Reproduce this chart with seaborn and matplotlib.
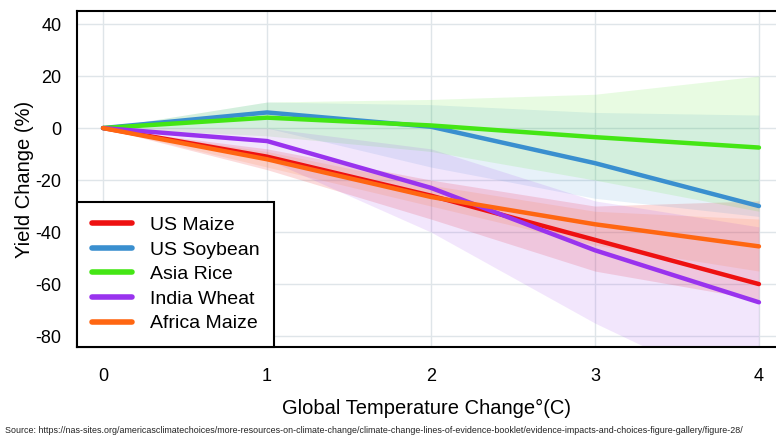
import numpy as np
import pandas as pd
import matplotlib.pyplot as plt
import seaborn as sns

# ---------------- data ----------------
temps = [0, 1, 2, 3, 4]
crops = ['US Maize', 'US Soybean', 'Asia Rice', 'India Wheat', 'Africa Maize']
colors = ['#ee1111', '#3a8fcf', '#44e614', '#9933ee', '#ff6611']

us_maize = [0, -11, -26, -43, -60]
us_soybean = [0, 6, 0.5, -13.5, -30]
asia_rice = [0, 4, 1, -3.5, -7.5]
india_wheat = [0, -5, -23, -47, -67]
africa_maize = [0, -12, -26.5, -37, -45.5]

# uncertainty bands (lower / upper)
us_maize_lo = [0, -16, -35, -55, -66]
us_maize_hi = [0, -8, -20, -30, -28]
us_soybean_lo = [0, 0, -15, -27, -34]
us_soybean_hi = [0, 10, 9, 6, 5]
asia_rice_lo = [0, -3, -9, -20, -32]
asia_rice_hi = [0, 10, 11, 13, 20]
india_wheat_lo = [0, -12, -40, -75, -105]
india_wheat_hi = [0, 0, -8, -28, -38]
africa_maize_lo = [0, -15, -30, -45, -55]
africa_maize_hi = [0, -9, -22, -32, -35]

series = [us_maize, us_soybean, asia_rice, india_wheat, africa_maize]
lows = [us_maize_lo, us_soybean_lo, asia_rice_lo, india_wheat_lo, africa_maize_lo]
highs = [us_maize_hi, us_soybean_hi, asia_rice_hi, india_wheat_hi, africa_maize_hi]

source = ("Source: https://nas-sites.org/americasclimatechoices/more-resources-on-climate-change/"
          "climate-change-lines-of-evidence-booklet/evidence-impacts-and-choices-figure-gallery/figure-28/")

# ---------------- plot ----------------
sns.set_theme(style='white')
plt.rcParams['font.family'] = ['Liberation Sans', 'DejaVu Sans']
plt.rcParams['axes.unicode_minus'] = False
plt.rcParams['text.color'] = 'black'
plt.rcParams['axes.labelcolor'] = 'black'
plt.rcParams['xtick.color'] = 'black'
plt.rcParams['ytick.color'] = 'black'

rows = []
for crop, vals in zip(crops, series):
    for t, v in zip(temps, vals):
        rows.append({'temp': t, 'yield': v, 'crop': crop})
df = pd.DataFrame(rows)

fig = plt.figure(figsize=(7.76, 4.36), dpi=100)
ax = fig.add_axes([0.0992, 0.2041, 0.9008, 0.7706])

band_alpha = [0.15, 0.12, 0.12, 0.12, 0.12]
for lo, hi, c, a in zip(lows, highs, colors, band_alpha):
    ax.fill_between(temps, lo, hi, color=c, alpha=a, linewidth=0, zorder=1)

sns.lineplot(data=df, x='temp', y='yield', hue='crop', hue_order=crops,
             palette=colors, linewidth=3.2, ax=ax, zorder=3)

ax.set_xlim(-0.159, 4.104)
ax.set_ylim(-84.2, 45)
ax.set_xticks(temps)
ax.set_yticks([-80, -60, -40, -20, 0, 20, 40])
ax.grid(True, color='#dfe5e9', linewidth=1)
ax.set_axisbelow(True)
ax.tick_params(axis='x', labelsize=13, pad=15, length=0)
ax.tick_params(axis='y', labelsize=13, pad=11, length=0)

for s in ['top', 'left', 'bottom']:
    ax.spines[s].set_color('black')
    ax.spines[s].set_linewidth(1.5)
ax.spines['right'].set_visible(False)

ax.set_xlabel('Global Temperature Change°(C)', fontsize=14.5, labelpad=10)
ax.set_ylabel('Yield Change (%)', fontsize=14.5, labelpad=1)

leg = ax.legend(loc='lower left', borderaxespad=0, fancybox=False,
                edgecolor='black', fontsize=14, handlelength=2.1,
                handletextpad=0.9, labelspacing=0.36, borderpad=0.75)
leg.get_frame().set_linewidth(1.5)
leg.get_frame().set_alpha(1)
for line in leg.get_lines():
    line.set_linewidth(4)

fig.text(0.006, 0.006, source, fontsize=6.4, color='#222222')

fig.savefig('out.png', dpi=100)
